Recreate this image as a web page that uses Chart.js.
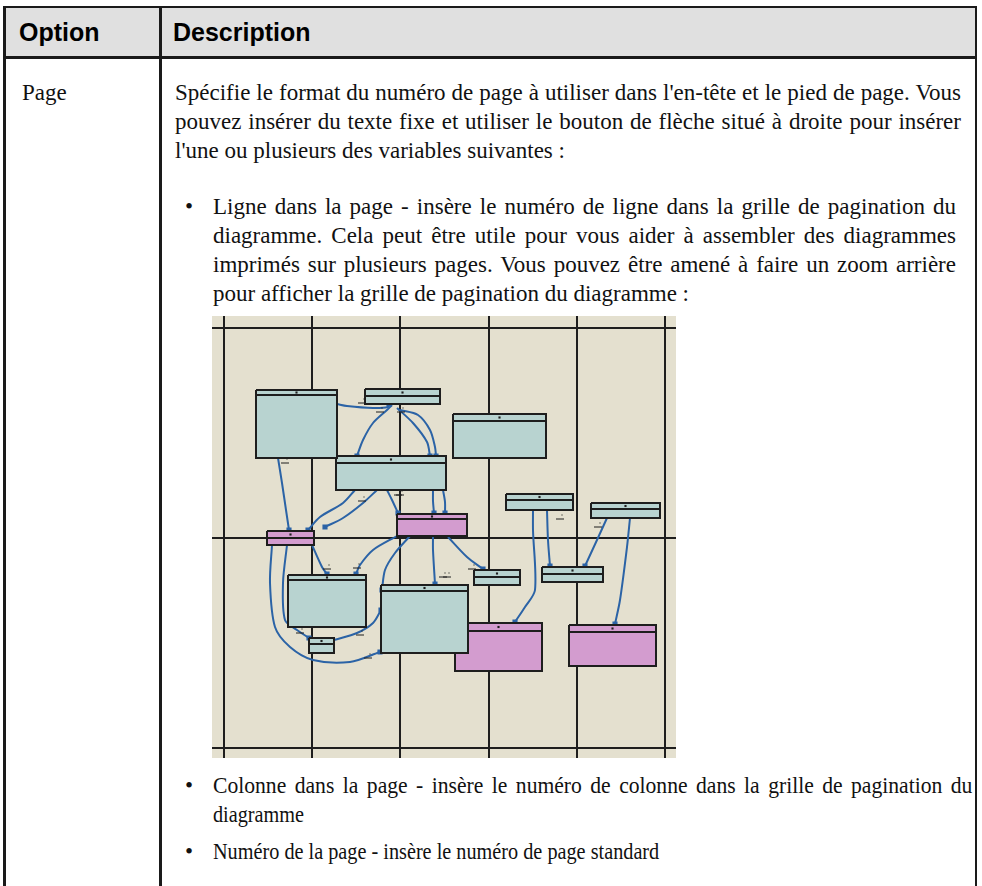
<!DOCTYPE html>
<html>
<head>
<meta charset="utf-8">
<script src="https://cdn.jsdelivr.net/npm/chart.js@4/dist/chart.umd.min.js"></script>
<style>
  html, body { margin: 0; padding: 0; background: #fff; }
  body { width: 982px; height: 886px; position: relative; overflow: hidden; }
  .rule { position: absolute; background: #1a1a1a; }
  .head { position: absolute; font-family: "Liberation Sans", Arial, sans-serif; font-weight: bold; font-size: 25px; line-height: 30px; color: #000; }
  .ln { position: absolute; font-family: "Liberation Serif", "Times New Roman", serif; font-size: 23px; line-height: 29px; color: #111; white-space: nowrap; }
  .just { text-align: justify; text-align-last: justify; white-space: normal; }
  .cond { transform-origin: 0 50%; }
  #wrap { position: absolute; left: 212px; top: 316px; width: 464px; height: 442px; background: #e4e0cf; }
</style>
</head>
<body>
<div style="position:absolute;left:4px;top:6px;width:973px;height:52px;background:#e0e0e0"></div>
<div class="rule" style="left:4px;top:6px;width:973px;height:2px"></div>
<div class="rule" style="left:4px;top:56px;width:973px;height:3px"></div>
<div class="rule" style="left:3px;top:6px;width:3px;height:880px"></div>
<div class="rule" style="left:159px;top:6px;width:3px;height:880px"></div>
<div class="rule" style="left:975px;top:6px;width:2px;height:880px"></div>

<div class="head" style="left:19px;top:17px">Option</div>
<div class="head" style="left:173px;top:17px">Description</div>

<div class="ln" style="left:22px;top:78px">Page</div>

<div class="ln just" style="left:175px;top:78px;width:786px">Spécifie le format du numéro de page à utiliser dans l'en-tête et le pied de page. Vous</div>
<div class="ln just" style="left:175px;top:107px;width:786px">pouvez insérer du texte fixe et utiliser le bouton de flèche situé à droite pour insérer</div>
<div class="ln" style="left:175px;top:136px">l'une ou plusieurs des variables suivantes :</div>

<div class="ln" style="left:185px;top:192px">•</div>
<div class="ln just" style="left:213px;top:192px;width:743px">Ligne dans la page - insère le numéro de ligne dans la grille de pagination du</div>
<div class="ln just" style="left:213px;top:221px;width:743px">diagramme. Cela peut être utile pour vous aider à assembler des diagrammes</div>
<div class="ln just" style="left:213px;top:250px;width:743px">imprimés sur plusieurs pages. Vous pouvez être amené à faire un zoom arrière</div>
<div class="ln" style="left:213px;top:279px">pour afficher la grille de pagination du diagramme :</div>

<div id="wrap"><canvas id="diagram" width="464" height="442"></canvas></div>

<div class="ln" style="left:185px;top:771px">•</div>
<div class="ln cond" data-fit="759" data-scale="0.94" style="left:213px;top:771px">Colonne dans la page - insère le numéro de colonne dans la grille de pagination du</div>
<div class="ln cond" data-scale="0.88" style="left:213px;top:800px">diagramme</div>
<div class="ln" style="left:185px;top:837px">•</div>
<div class="ln cond" data-scale="0.88" style="left:213px;top:837px">Numéro de la page - insère le numéro de page standard</div>

<script>
// page grid of the diagram (pixels inside the picture)
const gridX = [12, 100, 188, 277, 365, 453];
const gridY = [12, 222, 432];

// boxes: [left, top, right, bottom, header line]
const tealBoxes = [
  [44, 74, 125, 142, 79],
  [153, 73, 228, 88, 80],
  [124, 140, 234, 174, 147],
  [241, 98, 334, 142, 105],
  [294, 178, 361, 194, 184],
  [379, 187, 448, 202, 193],
  [76, 259, 154, 311, 264],
  [97, 322, 122, 337, 328],
  [169, 269, 256, 337, 275],
  [262, 254, 308, 269, 261],
  [330, 251, 391, 266, 258]
];
const pinkBoxes = [
  [185, 198, 255, 220, 203],
  [55, 215, 102, 229, 222],
  [243, 307, 330, 355, 315],
  [357, 309, 444, 350, 316]
];

// links between boxes
const links = [
  [[125, 88], [135, 90], [161, 92], [176, 91], [177, 88]],
  [[180, 89], [175, 94], [161, 107], [151, 124], [145, 140]],
  [[185, 92], [201, 107], [215, 126], [218, 140]],
  [[188, 94], [206, 99], [218, 114], [223, 131], [224, 140]],
  [[66, 142], [70, 167], [74, 194], [77, 214]],
  [[143, 174], [131, 187], [108, 201], [96, 214]],
  [[165, 174], [151, 187], [131, 202], [113, 211]],
  [[175, 174], [180, 184], [186, 197]],
  [[221, 174], [221, 185], [222, 197]],
  [[231, 174], [233, 186], [233, 197]],
  [[221, 220], [221, 234], [223, 268]],
  [[236, 221], [255, 241], [271, 253]],
  [[198, 220], [183, 237], [173, 254], [170, 274]],
  [[185, 220], [161, 234], [148, 249], [144, 258]],
  [[100, 229], [110, 251], [115, 258]],
  [[60, 229], [58, 267], [63, 311], [78, 331], [101, 344], [138, 346], [168, 336]],
  [[75, 229], [71, 267], [73, 304], [85, 314], [97, 322]],
  [[122, 324], [145, 317], [161, 307], [169, 294]],
  [[321, 194], [321, 214], [323, 274], [313, 291], [303, 306]],
  [[335, 194], [336, 224], [338, 250]],
  [[395, 202], [385, 224], [373, 250]],
  [[418, 202], [415, 231], [408, 284], [403, 308]]
];

// tiny role labels near link ends
const roleMarks = [[150, 87], [168, 96], [189, 96], [73, 147], [150, 185], [186, 179], [115, 253], [145, 252],
  [88, 317], [148, 319], [156, 342], [231, 261], [348, 203], [386, 211], [260, 253], [235, 261], [188, 179]];

const teal = '#b8d3d0', pink = '#d39ccf', ink = '#1e1e1e', linkBlue = '#2b63a6';

const datasets = [];

// box title marks
const titles = tealBoxes.concat(pinkBoxes).map(b => ({ x: (b[0] + b[2]) / 2, y: (b[1] + b[4]) / 2 }));
datasets.push({
  type: 'scatter', data: titles, pointStyle: 'rect', pointRadius: 1.5,
  backgroundColor: ink, borderColor: ink, borderWidth: 0
});

function addBox(b, colour) {
  datasets.push({
    type: 'line', data: [{ x: b[0], y: b[4] }, { x: b[2], y: b[4] }],
    borderColor: ink, borderWidth: 2, pointRadius: 0, fill: false
  });
  datasets.push({
    type: 'line',
    data: [{ x: b[0], y: b[1] }, { x: b[2], y: b[1] }, { x: b[2], y: b[3] }, { x: b[0], y: b[3] }, { x: b[0], y: b[1] }],
    borderColor: ink, borderWidth: 2, backgroundColor: colour, pointRadius: 0, fill: 'shape'
  });
}
tealBoxes.forEach(b => addBox(b, teal));
pinkBoxes.forEach(b => addBox(b, pink));

datasets.push({
  type: 'scatter', data: roleMarks.map(p => ({ x: p[0], y: p[1] })),
  pointStyle: 'line', pointRadius: 4, borderColor: ink, borderWidth: 1
});
datasets.push({
  type: 'scatter', data: roleMarks.map(p => ({ x: p[0] + 2, y: p[1] - 4 })),
  pointStyle: 'rect', pointRadius: 0.8, backgroundColor: ink, borderWidth: 0
});

links.forEach(l => {
  datasets.push({
    type: 'line', data: l.map(p => ({ x: p[0], y: p[1] })),
    borderColor: linkBlue, borderWidth: 2, tension: 0.3, fill: false,
    pointStyle: 'rect', backgroundColor: linkBlue, borderJoinStyle: 'round',
    pointRadius: ctx => (ctx.dataIndex === l.length - 1 ? 2.2 : 0)
  });
});

function gridAxis(ticks, max, reverse) {
  return {
    type: 'linear', min: 0, max: max, reverse: reverse,
    afterBuildTicks: s => { s.ticks = ticks.map(v => ({ value: v })); },
    ticks: { display: false, padding: 0 },
    grid: { color: ink, lineWidth: 2, drawTicks: false, tickLength: 0 },
    border: { display: false }
  };
}

new Chart(document.getElementById('diagram'), {
  type: 'line',
  data: { datasets: datasets },
  options: {
    responsive: false,
    animation: false,
    layout: { padding: 0, autoPadding: false },
    plugins: { legend: { display: false }, tooltip: { enabled: false } },
    scales: { x: gridAxis(gridX, 464, false), y: gridAxis(gridY, 442, true) }
  }
});

// condensed lines at the bottom: squeeze glyphs, then adjust word spacing to reach the target width
document.querySelectorAll('.cond').forEach(el => {
  const s = parseFloat(el.dataset.scale || 1);
  if (el.dataset.fit) {
    const gaps = el.textContent.split(' ').length - 1;
    const extra = (parseFloat(el.dataset.fit) / s - el.scrollWidth) / gaps;
    el.style.wordSpacing = extra.toFixed(2) + 'px';
  }
  el.style.transform = 'scaleX(' + s + ')';
});
</script>
</body>
</html>
